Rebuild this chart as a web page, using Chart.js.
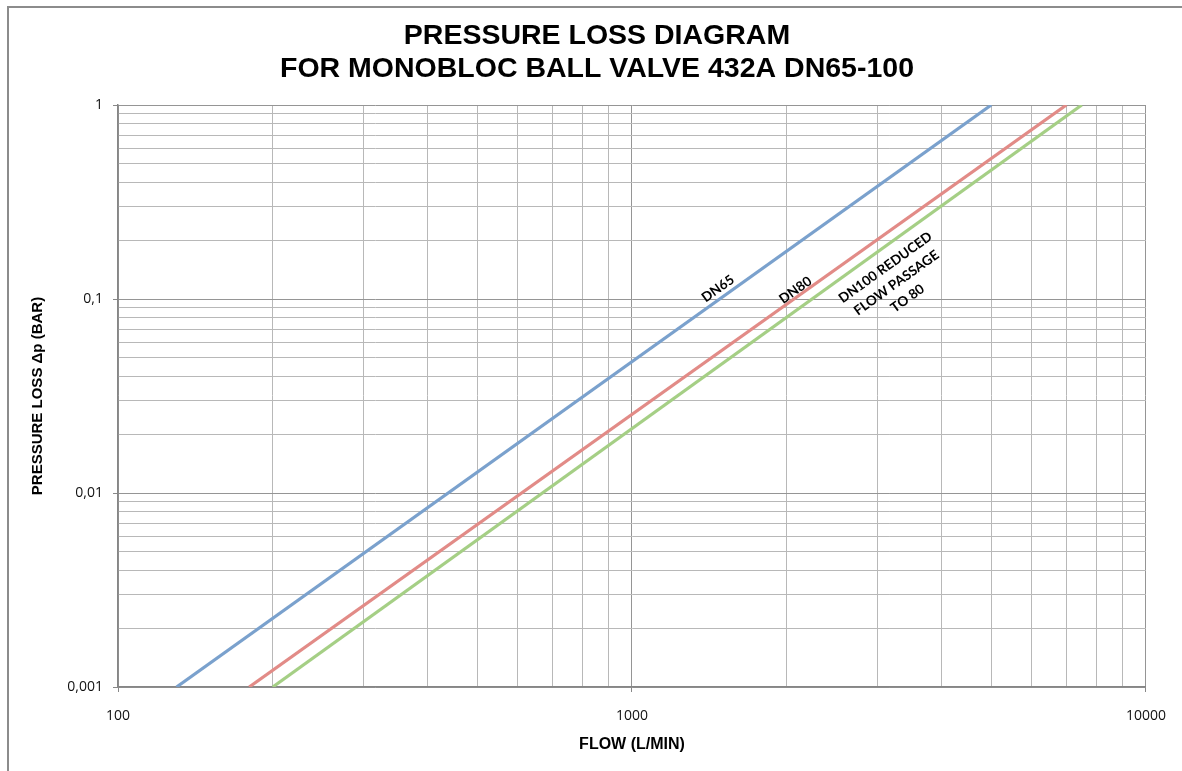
<!DOCTYPE html>
<html>
<head>
<meta charset="utf-8">
<script src="https://cdn.jsdelivr.net/npm/chart.js@4"></script>
<style>
  html, body { margin: 0; padding: 0; background: #fff; }
  canvas { display: block; }
</style>
</head>
<body>
<canvas id="lossChart" width="1182" height="771"></canvas>
<script>
// values (flow in L/min, pressure loss in bar)
var dn65Flow = [130, 5000];
var dn65Loss = [0.001, 1];
var dn80Flow = [180, 7000];
var dn80Loss = [0.001, 1];
var dn100Flow = [200, 7500];
var dn100Loss = [0.001, 1];

var seriesNames = ["DN65", "DN80", "DN100 REDUCED FLOW PASSAGE TO 80"];
var xTicks = [100, 200, 300, 400, 500, 600, 700, 800, 900,
              1000, 2000, 3000, 4000, 5000, 6000, 7000, 8000, 9000, 10000];
var yTicks = [0.001, 0.002, 0.003, 0.004, 0.005, 0.006, 0.007, 0.008, 0.009,
              0.01, 0.02, 0.03, 0.04, 0.05, 0.06, 0.07, 0.08, 0.09,
              0.1, 0.2, 0.3, 0.4, 0.5, 0.6, 0.7, 0.8, 0.9, 1];
var xLabels = { 100: "100", 1000: "1000", 10000: "10000" };
var yLabels = { 0.001: "0,001", 0.01: "0,01", 0.1: "0,1", 1: "1" };
var titleLines = ["PRESSURE LOSS DIAGRAM", "FOR MONOBLOC BALL VALVE 432A DN65-100"];
var lineLabels = [["DN65"], ["DN80"], ["DN100 REDUCED", "FLOW PASSAGE", "TO 80"]];

function pts(xs, ys) {
    return xs.map(function (x, i) { return { x: x, y: ys[i] }; });
}

function isDecade(v) {
    var l = Math.log10(v);
    return Math.abs(l - Math.round(l)) < 1e-9;
}

function gridColor(c) {
    var v = c.tick ? c.tick.value : 0;
    return isDecade(v) ? "#959595" : "#b8b8b8";
}

function tickColor(c) {
    var v = c.tick ? c.tick.value : 0;
    return isDecade(v) ? "#888888" : "rgba(0,0,0,0)";
}

var frame = {
    id: "frame",
    beforeDraw: function (chart) {
        var ctx = chart.ctx;
        ctx.save();
        ctx.fillStyle = "#fff";
        ctx.fillRect(0, 0, chart.width, chart.height);
        ctx.strokeStyle = "#8c8c8c";
        ctx.lineWidth = 2;
        ctx.beginPath();
        ctx.moveTo(8, chart.height + 5);
        ctx.lineTo(8, 7);
        ctx.lineTo(chart.width + 5, 7);
        ctx.stroke();
        // heading
        ctx.fillStyle = "#000";
        ctx.font = "bold 28.5px 'Liberation Sans', Arial, sans-serif";
        ctx.textAlign = "center";
        ctx.textBaseline = "middle";
        ctx.fillText(titleLines[0], 597, 36);
        ctx.fillText(titleLines[1], 597, 69);
        ctx.restore();
    },
    afterDatasetsDraw: function (chart) {
        var ctx = chart.ctx;
        var xs = chart.scales.x, ys = chart.scales.y;
        // where each label sits, in data units
        var anchors = [[1470, 0.113], [2080, 0.111], [3270, 0.121]];
        ctx.save();
        ctx.fillStyle = "#000";
        ctx.font = "bold 13.5px Lato, 'Liberation Sans', sans-serif";
        ctx.textAlign = "center";
        ctx.textBaseline = "middle";
        lineLabels.forEach(function (lines, i) {
            var d = chart.data.datasets[i].data;
            var ang = Math.atan2(
                ys.getPixelForValue(d[1].y) - ys.getPixelForValue(d[0].y),
                xs.getPixelForValue(d[1].x) - xs.getPixelForValue(d[0].x));
            ctx.save();
            ctx.translate(xs.getPixelForValue(anchors[i][0]), ys.getPixelForValue(anchors[i][1]));
            ctx.rotate(ang);
            var lh = 19;
            lines.forEach(function (t, j) {
                ctx.fillText(t, 0, (j - (lines.length - 1) / 2) * lh);
            });
            ctx.restore();
        });
        ctx.restore();
    }
};

var lineStyle = { showLine: true, fill: false, borderWidth: 3.2, pointRadius: 0, tension: 0 };

new Chart(document.getElementById("lossChart").getContext("2d"), {
    type: "scatter",
    data: {
        datasets: [
            Object.assign({ label: seriesNames[0], data: pts(dn65Flow, dn65Loss), borderColor: "#7aa1cd" }, lineStyle),
            Object.assign({ label: seriesNames[1], data: pts(dn80Flow, dn80Loss), borderColor: "#e28b87" }, lineStyle),
            Object.assign({ label: seriesNames[2], data: pts(dn100Flow, dn100Loss), borderColor: "#a5cf85" }, lineStyle)
        ]
    },
    options: {
        responsive: false,
        animation: false,
        layout: { padding: { top: 105, right: 34, left: 0, bottom: 0 } },
        plugins: {
            legend: { display: false },
            tooltip: { enabled: false }
        },
        scales: {
            x: {
                type: "logarithmic",
                position: "bottom",
                min: 100,
                max: 10000,
                afterBuildTicks: function (s) { s.ticks = xTicks.map(function (v) { return { value: v }; }); },
                afterFit: function (s) { s.height = 84; },
                ticks: {
                    autoSkip: false,
                    maxRotation: 0,
                    padding: 16,
                    color: "#111",
                    font: { family: "'Open Sans', 'Liberation Sans', sans-serif", size: 14 },
                    callback: function (v) { return xLabels[v] || ""; }
                },
                grid: { color: gridColor, tickColor: tickColor, tickLength: 5, lineWidth: 1 },
                border: { color: "#868686", width: 1.5 },
                title: {
                    display: true,
                    text: "FLOW (L/MIN)",
                    color: "#000",
                    padding: { top: 0, bottom: 17 },
                    font: { family: "'Liberation Sans', Arial, sans-serif", size: 16, weight: "bold" }
                }
            },
            y: {
                type: "logarithmic",
                position: "left",
                min: 0.001,
                max: 1,
                afterBuildTicks: function (s) { s.ticks = yTicks.map(function (v) { return { value: v }; }); },
                afterFit: function (s) { s.width = 118; },
                ticks: {
                    autoSkip: false,
                    padding: 10,
                    color: "#111",
                    font: { family: "'Open Sans', 'Liberation Sans', sans-serif", size: 14 },
                    callback: function (v) { return yLabels[v] || ""; }
                },
                grid: { color: gridColor, tickColor: tickColor, tickLength: 5, lineWidth: 1 },
                border: { color: "#868686", width: 1.5 },
                title: {
                    display: true,
                    text: "PRESSURE LOSS \u0394p (BAR)",
                    color: "#000",
                    padding: { top: 29, bottom: 0 },
                    font: { family: "'Liberation Sans', Arial, sans-serif", size: 15, weight: "bold" }
                }
            }
        }
    },
    plugins: [frame]
});
</script>
</body>
</html>
